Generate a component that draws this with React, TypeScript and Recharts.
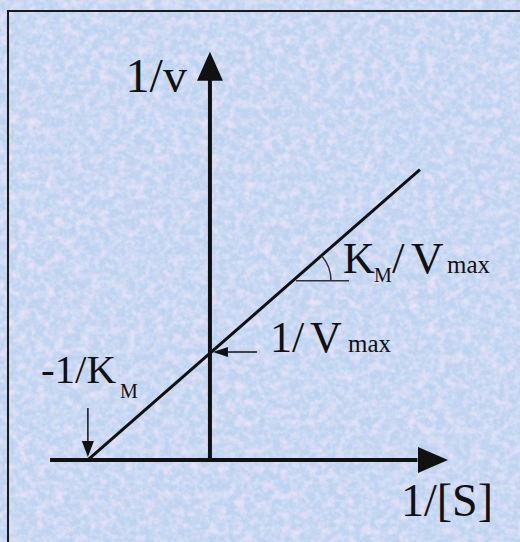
import { LineChart, Line, XAxis, YAxis, ReferenceLine, ReferenceDot } from 'recharts';

// Lineweaver-Burk plot, values in arbitrary units (K_M = 1, V_max = 1)
const invS = [-1, 1.72];
const invV = [0, 2.69];

const xDomain = [-1.72, 2.54];
const yDomain = [-0.76, 4.26];

const xAxisFrom = -1.31;
const xAxisTo = 1.7;
const xArrowTip = 1.95;
const yAxisTo = 3.52;
const yArrowTip = 3.78;

const kmIntercept = -1;
const vmaxIntercept = 1;
const slopeMark = { x: 0.68, y: 1.66 };

const data = invS.map((x, i) => ({ x, y: invV[i] }));

const INK = '#111';
const FONT = '"Liberation Serif", "Times New Roman", serif';

const YArrow = ({ cx, cy }: any) => (
  <g>
    <polygon points={`${cx},${cy} ${cx - 13},${cy + 29} ${cx + 13},${cy + 29}`} fill={INK} />
    <text x={cx - 23} y={cy + 40} textAnchor="end" fontFamily={FONT} fontSize={48} fill={INK}>
      1/v
    </text>
  </g>
);

const XArrow = ({ cx, cy }: any) => (
  <g>
    <polygon points={`${cx},${cy} ${cx - 30},${cy - 13} ${cx - 30},${cy + 13}`} fill={INK} />
    <text x={cx + 45} y={cy + 56} textAnchor="end" fontFamily={FONT} fontSize={46} fill={INK}>
      1/[S]
    </text>
  </g>
);

const KmMark = ({ cx, cy }: any) => (
  <g>
    <line x1={cx} y1={cy - 52} x2={cx} y2={cy - 16} stroke={INK} strokeWidth={1.5} />
    <polygon points={`${cx},${cy - 3} ${cx - 6},${cy - 19} ${cx + 6},${cy - 19}`} fill={INK} />
    <text x={cx - 47} y={cy - 77} fontFamily={FONT} fontSize={41} fill={INK}>
      -1/K
    </text>
    <text x={cx + 32} y={cy - 62} fontFamily={FONT} fontSize={20} fill={INK}>
      M
    </text>
  </g>
);

const VmaxMark = ({ cx, cy }: any) => (
  <g>
    <line x1={cx + 15} y1={cy} x2={cx + 47} y2={cy} stroke={INK} strokeWidth={1.5} />
    <polygon points={`${cx + 3},${cy} ${cx + 18},${cy - 5} ${cx + 18},${cy + 5}`} fill={INK} />
    <text x={cx + 60} y={cy} fontFamily={FONT} fontSize={44} fill={INK}>
      1/
    </text>
    <text x={cx + 100} y={cy} fontFamily={FONT} fontSize={44} fill={INK}>
      V
    </text>
    <text x={cx + 138} y={cy} fontFamily={FONT} fontSize={25} fill={INK}>
      max
    </text>
  </g>
);

const SlopeMark = ({ cx, cy }: any) => {
  const r = 38;
  const a = (41 * Math.PI) / 180;
  return (
    <g>
      <line x1={cx + 3} y1={cy} x2={cx + 56} y2={cy} stroke="#333" strokeWidth={1.5} />
      <path
        d={`M ${cx + r} ${cy} A ${r} ${r} 0 0 0 ${cx + r * Math.cos(a)} ${cy - r * Math.sin(a)}`}
        fill="none"
        stroke="#333"
        strokeWidth={1.5}
      />
      <text x={cx + 50} y={cy - 8} fontFamily={FONT} fontSize={44} fill={INK}>
        K
      </text>
      <text x={cx + 81} y={cy + 1} fontFamily={FONT} fontSize={20} fill={INK}>
        M
      </text>
      <text x={cx + 99} y={cy - 8} fontFamily={FONT} fontSize={45} fill={INK}>
        /
      </text>
      <text x={cx + 118} y={cy - 8} fontFamily={FONT} fontSize={45} fill={INK}>
        V
      </text>
      <text x={cx + 154} y={cy - 8} fontFamily={FONT} fontSize={25} fill={INK}>
        max
      </text>
    </g>
  );
};

export default function App() {
  return (
    <div
      style={{
        position: 'absolute',
        left: 0,
        top: 0,
        width: 520,
        height: 542,
        overflow: 'hidden',
        background: '#bfd3f0',
      }}
    >
      <svg width={520} height={542} style={{ position: 'absolute', left: 0, top: 0 }}>
        <defs>
          <filter id="grain" x="0" y="0" width="100%" height="100%">
            <feTurbulence type="fractalNoise" baseFrequency="0.11" numOctaves={3} seed={7} />
            <feColorMatrix
              type="matrix"
              values="0 0 0 0 0.88  0 0 0 0 0.78  0 0 0 0 0.94  1.9 0 0 0 -0.8"
            />
          </filter>
          <filter id="grain2" x="0" y="0" width="100%" height="100%">
            <feTurbulence type="fractalNoise" baseFrequency="0.2" numOctaves={2} seed={3} />
            <feColorMatrix
              type="matrix"
              values="0 0 0 0 0.68  0 0 0 0 0.83  0 0 0 0 0.97  0 1.6 0 0 -0.7"
            />
          </filter>
        </defs>
        <rect width={520} height={542} filter="url(#grain2)" />
        <rect width={520} height={542} filter="url(#grain)" />
      </svg>
      <div
        style={{
          position: 'absolute',
          left: 7,
          top: 10,
          width: 600,
          height: 600,
          border: '2px solid #1a1a1a',
        }}
      />
      <div style={{ position: 'absolute', left: 0, top: 0 }}>
        <LineChart width={520} height={542} data={data} margin={{ top: 0, right: 0, bottom: 0, left: 0 }}>
          <XAxis type="number" dataKey="x" domain={xDomain} allowDataOverflow hide />
          <YAxis type="number" domain={yDomain} allowDataOverflow hide />
          <ReferenceLine
            segment={[
              { x: xAxisFrom, y: 0 },
              { x: xAxisTo, y: 0 },
            ]}
            stroke={INK}
            strokeWidth={4}
          />
          <ReferenceLine
            segment={[
              { x: 0, y: 0 },
              { x: 0, y: yAxisTo },
            ]}
            stroke={INK}
            strokeWidth={4}
          />
          <Line
            type="linear"
            dataKey="y"
            stroke={INK}
            strokeWidth={3}
            dot={false}
            activeDot={false}
            isAnimationActive={false}
          />
          <ReferenceDot x={0} y={yArrowTip} r={0} fill="none" stroke="none" shape={YArrow} />
          <ReferenceDot x={xArrowTip} y={0} r={0} fill="none" stroke="none" shape={XArrow} />
          <ReferenceDot x={kmIntercept} y={0} r={0} fill="none" stroke="none" shape={KmMark} />
          <ReferenceDot x={0} y={vmaxIntercept} r={0} fill="none" stroke="none" shape={VmaxMark} />
          <ReferenceDot x={slopeMark.x} y={slopeMark.y} r={0} fill="none" stroke="none" shape={SlopeMark} />
        </LineChart>
      </div>
    </div>
  );
}
